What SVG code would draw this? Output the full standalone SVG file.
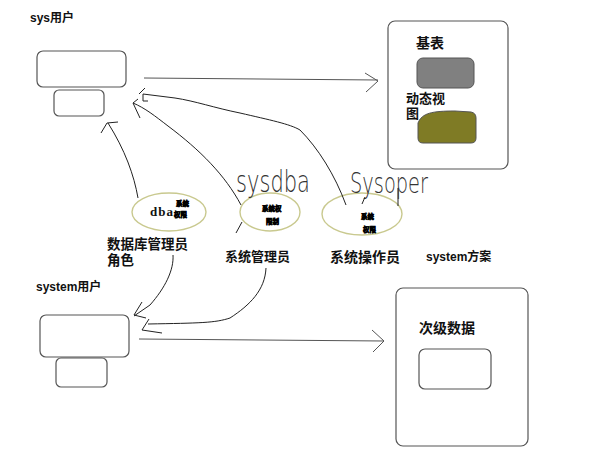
<svg xmlns="http://www.w3.org/2000/svg" width="595" height="457" viewBox="0 0 595 457">
<style>
.box{fill:#fff;stroke:#555;stroke-width:1.2}
.ell{fill:#fff;stroke:#c9c98f;stroke-width:1.4}
.lbl{font-family:"Liberation Sans","Noto Sans CJK SC",sans-serif;font-weight:bold;fill:#111}
.cjk{font-family:"Noto Sans CJK SC",sans-serif;font-weight:bold;fill:#111}
.hand{font-family:"DejaVu Sans",sans-serif;font-weight:200;fill:#333}
.blob{font-family:"Noto Sans CJK SC",sans-serif;font-weight:bold;font-size:6.5px;fill:#000;stroke:#000;stroke-width:0.7}
.ln{fill:none;stroke:#222;stroke-width:1}
.lg{fill:none;stroke:#555;stroke-width:1}
</style>
<rect width="595" height="457" fill="#fff"/>

<g id="sys-user">
<text class="lbl" x="30" y="22" font-size="12">sys用户</text>
<rect class="box" x="37" y="51" width="89" height="36" rx="6"/>
<rect class="box" x="54" y="90" width="50" height="26" rx="5"/>
</g>

<g id="sys-schema">
<rect class="box" x="388" y="21" width="120" height="148" rx="7"/>
<text class="cjk" x="416" y="48" font-size="14">基表</text>
<rect x="417" y="58" width="57" height="30" rx="6" fill="#808080" stroke="#555"/>
<text class="cjk" x="406" y="103" font-size="13">动态视</text>
<text class="cjk" x="406" y="118" font-size="13">图</text>
<path d="M418,123 C422,113 432,111 455,111 L471,112 Q476,113 476,118 L476,138 Q476,143 471,143 L423,143 Q418,143 418,138 Z" fill="#7f7b25" stroke="#555"/>
</g>

<g id="dba-role">
<ellipse class="ell" cx="169" cy="212" rx="37" ry="19"/>
<text x="150" y="216" font-family="'Liberation Serif',serif" font-weight="bold" font-size="13" letter-spacing="1" fill="#111">dba</text>
<text class="blob" x="176" y="206">系统</text>
<text class="blob" x="174" y="217">权限</text>
<text class="cjk" x="107" y="249" font-size="13.5">数据库管理员</text>
<text class="cjk" x="107" y="265" font-size="13.5">角色</text>
</g>

<g id="sysdba">
<ellipse class="ell" cx="270" cy="212" rx="30" ry="19"/>
<text class="blob" x="262" y="211">系统权</text>
<text class="blob" x="266" y="224">限制</text>
<text class="hand" x="236" y="192" font-size="30" textLength="74" lengthAdjust="spacingAndGlyphs">sysdba</text>
<text class="cjk" x="225" y="261" font-size="13" font-weight="normal">系统管理员</text>
</g>

<g id="sysoper">
<ellipse class="ell" cx="362" cy="214" rx="40" ry="21"/>
<text class="blob" x="361" y="219">系统</text>
<text class="blob" x="363" y="232">权限</text>
<text class="hand" x="350" y="193" font-size="28" textLength="78" lengthAdjust="spacingAndGlyphs">Sysoper</text>
<text class="cjk" x="330" y="262" font-size="14" font-weight="normal">系统操作员</text>
</g>

<g id="system-label">
<text class="lbl" x="426" y="261" font-size="12">system方案</text>
</g>

<g id="system-user">
<text class="lbl" x="36" y="291" font-size="12">system用户</text>
<rect class="box" x="40" y="315" width="89" height="42" rx="6"/>
<rect class="box" x="56" y="358" width="51" height="29" rx="5"/>
</g>

<g id="secondary-data">
<rect class="box" x="396" y="288" width="132" height="158" rx="7"/>
<text class="cjk" x="419" y="333" font-size="14">次级数据</text>
<rect class="box" x="419" y="349" width="72" height="40" rx="6"/>
</g>

<g id="connectors">
<path class="lg" d="M144,78 L260,79 L378,80"/>
<polyline class="lg" points="365,73 378,81 366,92"/>
<path class="lg" d="M139,339 L260,340 L384,341"/>
<polyline class="lg" points="372,330 384,341 373,352"/>
<path class="ln" d="M138,198 C134,175 125,150 108,123"/>
<polyline class="ln" points="101,133 107,123 118,122"/>
<path class="ln" d="M241,205 C225,175 200,150 168,126 C155,116 145,108 133,103"/>
<polyline class="ln" points="138,99 133,103 140,118"/>
<path class="ln" d="M346,205 C335,175 318,148 300,130 C290,124 270,120 240,113 C215,108 195,101 175,98 L143,94"/>
<polyline class="ln" points="139,94 145,88"/>
<polyline class="ln" points="143,94 143,101 148,101"/>
<path class="ln" d="M173,255 C174,270 165,288 150,305 L134,316"/>
<polyline class="ln" points="142,302 134,315 146,318"/>
<path class="ln" d="M266,268 C265,290 250,305 230,318 C215,323 200,323 148,324"/>
<polyline class="ln" points="149,319 142,330 162,333"/>
<path class="ln" d="M365,197 L362,204 M398,188 L398,206"/>
<path class="ln" d="M242,222 L236,233" stroke-width="1.6"/>
</g>
</svg>
